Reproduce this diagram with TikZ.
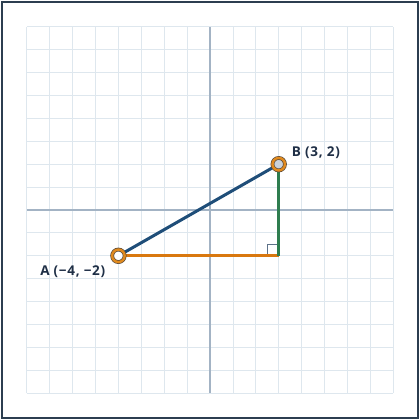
\documentclass[tikz,border=0pt]{standalone}
\usepackage{fontspec}
\setmainfont{Open Sans}[LetterSpace=5]
\definecolor{bordercol}{HTML}{2C3E50}
\definecolor{gridcol}{HTML}{DEE7EE}
\definecolor{axiscol}{HTML}{A3B3C4}
\definecolor{navyseg}{HTML}{1F4E79}
\definecolor{orangeseg}{HTML}{D9780F}
\definecolor{greenseg}{HTML}{2E7D4F}
\definecolor{markcol}{HTML}{5D7289}
\definecolor{ringdark}{HTML}{5B4A3A}
\definecolor{ringorange}{HTML}{E08A1E}
\definecolor{pfillB}{HTML}{C9D1D9}
\definecolor{labelcol}{HTML}{1F2F46}
\tikzset{
  framebox/.style={draw=bordercol, line width=2pt},
  gridline/.style={draw=gridcol, line width=0.8pt},
  axisline/.style={draw=axiscol, line width=1.2pt},
  seg/.style={line width=3pt},
  rightmark/.style={draw=markcol, line width=1.4pt},
  ptdot/.style={circle, draw=ringdark, double=ringorange, double distance=2.4pt,
     line width=0.7pt, minimum size=12.5pt, inner sep=0pt},
  ptlabel/.style={font=\bfseries\fontsize{13.5}{16}\selectfont, text=labelcol, inner sep=0pt}
}
\begin{document}
\begin{tikzpicture}[x=1pt,y=1pt]
\useasboundingbox (0,0) rectangle (420,420);
\fill[white] (0,0) rectangle (420,420);
\draw[framebox] (2,2) rectangle (418,418);
\begin{scope}[shift={(210,210)}, x=22.9pt, y=22.9pt]
  \draw[gridline, step=1] (-8,-8) grid (8,8);
  \draw[axisline] (-8,0) -- (8,0);
  \draw[axisline] (0,-8) -- (0,8);
  \coordinate (C) at (3,-2);
  \coordinate (Apos) at (-4,-2);
  \coordinate (Bpos) at (3,2);
  \draw[rightmark] ([xshift=-11.5pt]C) -- ++(0,11.5pt) -- ++(11.5pt,0);
  \draw[seg, draw=orangeseg] (Apos) -- (C);
  \draw[seg, draw=greenseg] (C) -- (Bpos);
  \draw[seg, draw=navyseg] (Apos) -- (Bpos);
  \node[ptdot, fill=white] (A) at (Apos) {};
  \node[ptdot, fill=pfillB] (B) at (Bpos) {};
\end{scope}
\node[ptlabel, anchor=base west] (Blabel) at ([xshift=13pt,yshift=8pt]B.center) {B (3, 2)};
\node[ptlabel, anchor=base east] (Alabel) at ([xshift=-13pt,yshift=-20pt]A.center) {A (−4, −2)};
\end{tikzpicture}
\end{document}
